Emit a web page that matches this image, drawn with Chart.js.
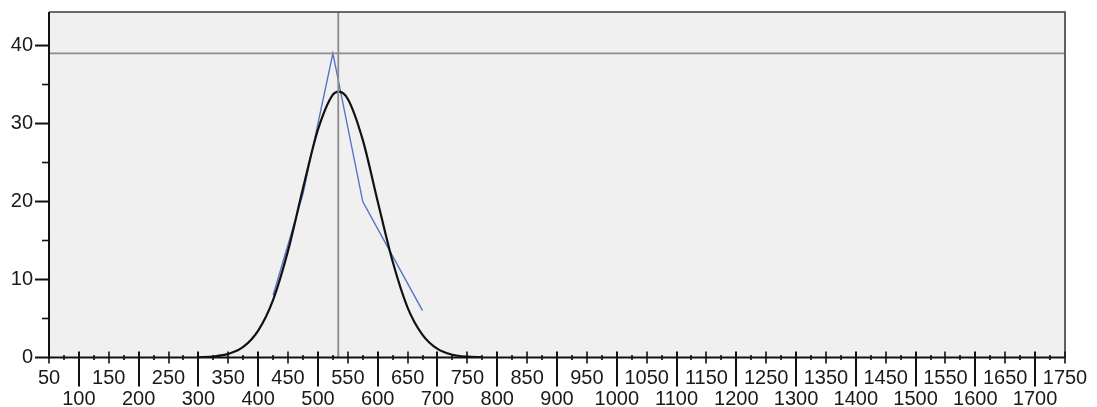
<!DOCTYPE html>
<html>
<head>
<meta charset="utf-8">
<script src="https://cdn.jsdelivr.net/npm/chart.js@4/dist/chart.umd.min.js"></script>
<style>
  html, body { margin: 0; padding: 0; background: #ffffff; }
  canvas { display: block; }
</style>
</head>
<body>
<canvas id="chart" width="1097" height="407"></canvas>
<script>
// Frequency polygon: bin midpoints and counts
const binMidpoints = [425, 475, 525, 575, 625, 675];
const binCounts    = [8, 21, 39, 20, 13, 6];

// Fitted normal curve, sampled along the x range
const curveX = [300, 325, 350, 375, 400, 425, 450, 475, 500, 525, 535, 550, 575, 600, 625, 650, 675, 700, 725, 750, 775];
const curveY = [0.03, 0.13, 0.46, 1.35, 3.45, 7.4, 13.7, 21.7, 29.2, 33.7, 34.1, 33.15, 27.9, 20.0, 12.3, 6.4, 2.9, 1.1, 0.36, 0.1, 0.02];

// Reference lines
const peakCount = 39;
const meanValue = 534;

// Axis ranges and tick steps
const xMin = 50, xMax = 1750, xStep = 50, xMinorStep = 25;
const yMin = 0, yMax = 44.3, yStep = 10, yMinorStep = 5;

const toPoints = (xs, ys) => xs.map((x, i) => ({ x: x, y: ys[i] }));

Chart.defaults.font.family = '"Liberation Sans", Arial, Helvetica, sans-serif';
Chart.defaults.font.size = 20;
Chart.defaults.color = '#1a1a1a';

// Plot background, frame and SPSS-style tick marks
const framePlugin = {
  id: 'frame',
  beforeDraw(chart) {
    const { ctx, chartArea: a } = chart;
    ctx.save();
    ctx.fillStyle = '#f0f0f0';
    ctx.fillRect(a.left, a.top, a.right - a.left, a.bottom - a.top);
    ctx.restore();
  },
  afterDraw(chart) {
    const { ctx, chartArea: a, scales } = chart;
    const xs = scales.x, ys = scales.y;
    ctx.save();
    // top and right border
    ctx.strokeStyle = '#3c3c3c';
    ctx.lineWidth = 1.6;
    ctx.beginPath();
    ctx.moveTo(a.left, a.top);
    ctx.lineTo(a.right, a.top);
    ctx.lineTo(a.right, a.bottom);
    ctx.stroke();
    // axes
    ctx.strokeStyle = '#111111';
    ctx.lineWidth = 2;
    ctx.beginPath();
    ctx.moveTo(a.left, a.top);
    ctx.lineTo(a.left, a.bottom);
    ctx.lineTo(a.right, a.bottom);
    ctx.stroke();
    // x ticks
    for (let v = xMin; v <= xMax; v += xMinorStep) {
      const px = Math.round(xs.getPixelForValue(v));
      let y0, y1, w;
      if (v % 100 === 0) { y0 = a.bottom - 6; y1 = a.bottom + 29; w = 2; }
      else if (v % 50 === 0) { y0 = a.bottom - 6; y1 = a.bottom + 6; w = 1.6; }
      else { y0 = a.bottom - 2.5; y1 = a.bottom + 2.5; w = 1.6; }
      ctx.lineWidth = w;
      ctx.beginPath();
      ctx.moveTo(px, y0);
      ctx.lineTo(px, y1);
      ctx.stroke();
    }
    // y ticks
    for (let v = yMin; v <= 40; v += yMinorStep) {
      const py = ys.getPixelForValue(v);
      const major = v % yStep === 0;
      ctx.lineWidth = major ? 2 : 1.6;
      ctx.beginPath();
      ctx.moveTo(a.left - (major ? 14 : 7), py);
      ctx.lineTo(a.left, py);
      ctx.stroke();
    }
    ctx.restore();
  }
};

new Chart(document.getElementById('chart'), {
  type: 'scatter',
  data: {
    datasets: [
      {
        label: 'Peak',
        data: [{ x: xMin, y: peakCount }, { x: xMax, y: peakCount }],
        showLine: true, borderColor: '#8c8c8c', borderWidth: 1.8,
        pointRadius: 0, order: 0
      },
      {
        label: 'Mean',
        data: [{ x: meanValue, y: yMin }, { x: meanValue, y: yMax }],
        showLine: true, borderColor: '#8c8c8c', borderWidth: 1.8,
        pointRadius: 0, order: 1
      },
      {
        label: 'Normal',
        data: toPoints(curveX, curveY),
        showLine: true, borderColor: '#111111', borderWidth: 2.2,
        cubicInterpolationMode: 'monotone',
        pointRadius: 0, order: 2
      },
      {
        label: 'Frequency',
        data: toPoints(binMidpoints, binCounts),
        showLine: true, borderColor: '#5474c8', borderWidth: 1.4,
        tension: 0, pointRadius: 0, order: 3
      }
    ]
  },
  options: {
    responsive: false,
    animation: false,
    devicePixelRatio: 1,
    layout: { padding: { top: 12, right: 32, left: 0, bottom: 0 } },
    plugins: { legend: { display: false }, tooltip: { enabled: false } },
    scales: {
      x: {
        type: 'linear',
        min: xMin, max: xMax,
        grid: { display: false, drawTicks: false },
        border: { display: false },
        ticks: {
          stepSize: xStep,
          autoSkip: false,
          maxRotation: 0,
          includeBounds: false,
          padding: 11,
          font: { size: 20, lineHeight: 1.03 },
          callback: (v) => (v % 100 === 0 ? ['', String(v)] : [String(v), ''])
        },
        afterFit: (s) => { s.height = 49.5; s.paddingLeft = 0; s.paddingRight = 0; }
      },
      y: {
        type: 'linear',
        min: yMin, max: yMax,
        grid: { display: false, drawTicks: false },
        border: { display: false },
        ticks: {
          stepSize: yStep,
          includeBounds: false,
          padding: 16,
          font: { size: 20 },
          callback: (v) => String(v)
        },
        afterFit: (s) => { s.width = 49; s.paddingTop = 0; s.paddingBottom = 0; }
      }
    }
  },
  plugins: [framePlugin]
});
</script>
</body>
</html>
